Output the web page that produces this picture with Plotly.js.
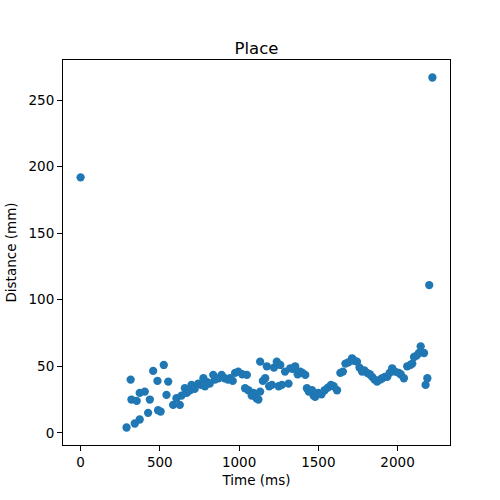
<!DOCTYPE html>
<html>
<head>
<meta charset="utf-8">
<script src="https://cdn.plot.ly/plotly-3.0.1.min.js"></script>
<style>
  body { margin: 0; background: #fff; }
  #chart { width: 500px; height: 500px; }
</style>
</head>
<body>
<div id="chart"></div>
<script>
// time in ms
var timeMs = [0, 290, 316, 321, 342, 354, 373, 373, 405, 426, 437, 458, 485, 489, 505, 525,
    542, 553, 584, 605, 626, 637, 658, 670, 690, 700, 720, 742, 760, 775, 785, 800,
    815, 837, 848, 870, 890, 910, 930, 943, 960, 975, 995, 1020, 1038, 1049, 1059, 1080,
    1091, 1110, 1122, 1133, 1133, 1150, 1165, 1175, 1190, 1207, 1220, 1238, 1250, 1260, 1270, 1290,
    1312, 1323, 1340, 1354, 1370, 1386, 1400, 1418, 1428, 1440, 1460, 1470, 1480, 1500, 1520, 1540,
    1560, 1580, 1597, 1618, 1639, 1655, 1671, 1690, 1713, 1730, 1744, 1760, 1776, 1790, 1808, 1825,
    1840, 1855, 1871, 1890, 1903, 1920, 1935, 1950, 1966, 1985, 2008, 2020, 2040, 2061, 2080, 2093,
    2104, 2120, 2135, 2146, 2167, 2177, 2188, 2200, 2220];
// distance in mm
var distMm = [192, 4, 40, 25, 7, 24, 10, 30, 31, 15, 25, 46.5, 39, 17, 16, 51,
    28.5, 38.5, 21, 26, 21, 28, 33.5, 30, 32, 36, 33, 37, 36, 41, 35, 38,
    37, 43.5, 40, 41, 43.5, 41, 40, 41, 39, 45, 46, 44, 33.5, 43.5, 32, 28,
    30, 26, 25, 31, 53.5, 39, 41, 50, 35, 36, 49, 53.5, 35, 51, 36, 46,
    37, 48.5, 48, 50, 44, 46, 45, 43.5, 33.5, 31, 32, 28, 27, 30, 29, 32,
    34, 36, 35, 32, 45, 46, 52, 53, 56, 54, 53.5, 49, 46, 47, 45, 44,
    42, 40, 38.5, 40, 41, 42, 42, 45, 48.5, 46, 45, 44, 41, 50, 51, 52,
    57, 58, 60, 65, 60, 36, 41, 111, 267];

var xTicks = [0, 500, 1000, 1500, 2000];
var yTicks = [0, 50, 100, 150, 200, 250];

var data = [
    {
        x: timeMs,
        y: distMm,
        mode: 'markers',
        type: 'scatter',
        marker: {color: '#1f77b4', size: 8.3}
    }
];

var axisStyle = {
    showgrid: false, zeroline: false, showline: true, mirror: true,
    linecolor: '#000', linewidth: 1,
    ticks: 'outside', ticklen: 5, tickwidth: 1, tickcolor: '#000',
    tickfont: {size: 13.5, color: '#000'}
};

var layout = {
    width: 500, height: 500,
    margin: {l: 62.5, r: 50, t: 60, b: 55},
    font: {family: 'DejaVu Sans', color: '#000'},
    paper_bgcolor: '#fff', plot_bgcolor: '#fff',
    showlegend: false,
    title: {text: 'Place', font: {size: 16.5}, x: 0.5, xref: 'paper', xanchor: 'center',
        y: 1, yref: 'paper', yanchor: 'bottom', pad: {b: 6}},
    xaxis: Object.assign({}, axisStyle, {
        range: [-111, 2331], tickvals: xTicks,
        title: {text: 'Time (ms)', font: {size: 13.5}, standoff: 6}
    }),
    yaxis: Object.assign({}, axisStyle, {
        range: [-9.15, 280.15], tickvals: yTicks,
        title: {text: 'Distance (mm)', font: {size: 13.5}, standoff: 8}
    })
};

Plotly.newPlot('chart', data, layout, {displayModeBar: false});
</script>
</body>
</html>
